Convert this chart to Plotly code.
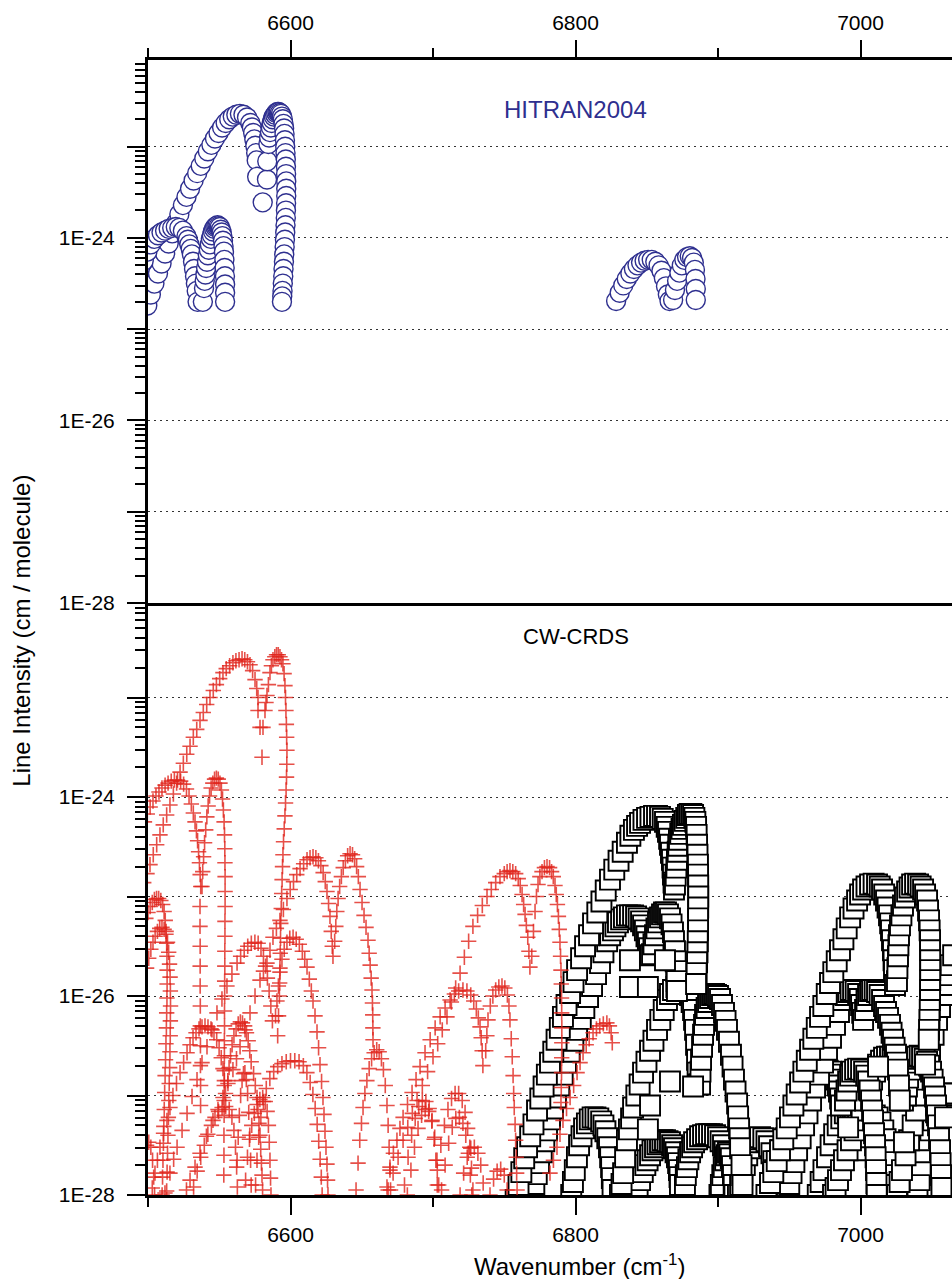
import plotly.graph_objects as go

# Every branch below: list of (wavenumber in cm-1, log10 of line intensity in cm/molecule)

# ---------------- HITRAN2004 (top panel) ----------------
HIT_B1_P = [(6499.5,-24.74),(6502.0,-24.62),(6504.5,-24.5),(6507.0,-24.39),(6509.5,-24.28),(6512.0,-24.17),
            (6514.5,-24.06),(6517.0,-23.95),(6519.5,-23.84),(6522.0,-23.74),(6524.5,-23.64),(6527.0,-23.55),
            (6529.5,-23.46),(6532.0,-23.37),(6534.5,-23.29),(6537.0,-23.21),(6539.5,-23.13),(6542.0,-23.05),
            (6544.5,-22.98),(6547.0,-22.91),(6549.5,-22.85),(6552.0,-22.79),(6554.5,-22.74),(6557.0,-22.7),
            (6559.5,-22.67),(6562.0,-22.65),(6564.5,-22.64),(6567.0,-22.65),(6569.5,-22.68),(6571.8,-22.74),
            (6572.9,-22.79),(6573.8,-22.85),(6574.6,-22.92),(6575.3,-22.99),(6575.9,-23.07),(6576.3,-23.15),
            (6576.6,-23.33),(6580.5,-23.61)]
HIT_B1_R = [(6583.5,-23.36),(6583.7,-23.16),(6584.5,-22.97),(6585.0,-22.9),(6585.6,-22.84),(6586.2,-22.79),
            (6586.8,-22.74),(6587.5,-22.7),(6588.3,-22.67),(6589.2,-22.65),(6590.0,-22.63),(6590.9,-22.62),
            (6591.7,-22.62),(6592.5,-22.63),(6593.3,-22.64),(6594.0,-22.67),(6594.6,-22.7),(6595.1,-22.75),
            (6595.5,-22.8),(6595.8,-22.86),(6596.1,-22.93),(6596.3,-23.0),(6596.5,-23.07),(6596.7,-23.14),
            (6596.8,-23.22),(6596.9,-23.3),(6597.0,-23.38),(6597.0,-23.46),(6597.0,-23.54),(6596.9,-23.62),
            (6596.8,-23.7),(6596.7,-23.78),(6596.5,-23.86),(6596.3,-23.94),(6596.1,-24.02),(6595.9,-24.1),
            (6595.6,-24.18),(6595.4,-24.26),(6595.1,-24.34),(6594.9,-24.42),(6594.6,-24.5),(6594.4,-24.58),
            (6594.2,-24.64),(6594.0,-24.7)]
HIT_B2_P = [(6497.0,-24.25),(6499.5,-24.15),(6502.0,-24.07),(6504.5,-24.01),(6507.0,-23.97),(6509.5,-23.94),
            (6512.0,-23.92),(6514.5,-23.9),(6517.0,-23.89),(6519.5,-23.88),(6522.0,-23.89),(6524.5,-23.92),
            (6527.0,-23.98),(6528.0,-24.02),(6529.0,-24.07),(6530.0,-24.12),(6530.8,-24.18),(6531.6,-24.26),
            (6532.3,-24.34),(6533.0,-24.42),(6533.6,-24.5),(6534.2,-24.58),(6534.8,-24.7)]
HIT_B2_R = [(6538.5,-24.7),(6539.3,-24.55),(6539.8,-24.47),(6540.3,-24.4),(6540.8,-24.33),(6541.4,-24.26),
            (6542.0,-24.19),(6542.7,-24.13),(6543.4,-24.07),(6544.1,-24.01),(6544.8,-23.97),(6545.6,-23.93),
            (6546.4,-23.9),(6547.2,-23.88),(6548.0,-23.87),(6548.8,-23.86),(6549.6,-23.87),(6550.4,-23.88),
            (6551.1,-23.91),(6551.7,-23.94),(6552.2,-23.98),(6552.6,-24.03),(6553.0,-24.09),(6553.3,-24.15),
            (6553.6,-24.24),(6553.8,-24.33),(6554.0,-24.42),(6554.1,-24.51),(6554.1,-24.6),(6554.1,-24.7)]
HIT_B3_P = [(6828.5,-24.69),(6831.0,-24.6),(6833.5,-24.52),(6836.0,-24.45),(6838.5,-24.39),(6841.0,-24.34),
            (6843.5,-24.3),(6846.0,-24.27),(6848.5,-24.25),(6851.0,-24.24),(6853.5,-24.24),(6856.0,-24.26),
            (6858.3,-24.3),(6860.3,-24.36),(6862.0,-24.44),(6863.5,-24.53),(6864.8,-24.62),(6866.0,-24.69)]
HIT_B3_R = [(6868.5,-24.68),(6869.8,-24.57),(6871.3,-24.47),(6872.9,-24.38),(6874.6,-24.3),(6876.4,-24.24),
            (6878.3,-24.21),(6880.2,-24.2),(6881.8,-24.22),(6883.0,-24.27),(6883.8,-24.35),(6884.2,-24.45),
            (6884.4,-24.56),(6884.4,-24.68)]

# ---------------- CW-CRDS, red crosses ----------------
RED_R1_P = [(6497.0,-24.86),(6499.3,-24.77),(6501.4,-24.68),(6503.7,-24.58),(6506.1,-24.48),(6508.4,-24.38),
            (6510.7,-24.28),(6513.1,-24.18),(6515.4,-24.08),(6517.8,-23.97),(6520.1,-23.86),(6522.5,-23.75),
            (6524.8,-23.66),(6527.2,-23.57),(6529.5,-23.49),(6531.8,-23.4),(6534.2,-23.32),(6536.5,-23.23),
            (6538.8,-23.15),(6541.2,-23.07),(6543.5,-23.0),(6545.8,-22.93),(6548.0,-22.87),(6550.3,-22.81),
            (6552.6,-22.75),(6554.9,-22.71),(6557.3,-22.68),(6559.6,-22.65),(6561.7,-22.63),(6563.9,-22.62),
            (6566.0,-22.61),(6567.9,-22.62),(6569.8,-22.64),(6571.6,-22.67),(6573.4,-22.73),(6575.1,-22.82),
            (6576.3,-22.91),(6577.2,-23.0),(6577.2,-23.13),(6578.6,-23.3),(6580.0,-23.6)]
RED_R1_R = [(6580.7,-23.3),(6582.1,-23.13),(6582.8,-23.05),(6583.5,-22.98),(6584.5,-22.87),(6585.6,-22.75),
            (6586.6,-22.68),(6587.7,-22.62),(6589.0,-22.59),(6590.2,-22.57),(6591.4,-22.57),(6592.6,-22.59),
            (6593.7,-22.62),(6594.7,-22.66),(6595.5,-22.76),(6596.1,-22.88),(6596.5,-23.0),(6596.8,-23.13),
            (6597.1,-23.27),(6597.3,-23.4),(6597.5,-23.53),(6597.4,-23.67),(6597.2,-23.8),(6596.9,-23.93),
            (6596.5,-24.06),(6596.1,-24.19),(6595.6,-24.32),(6595.1,-24.45),(6594.7,-24.58),(6594.4,-24.7),
            (6594.1,-24.83),(6593.8,-24.97),(6593.5,-25.12),(6593.2,-25.27),(6593.0,-25.42),(6592.8,-25.57),
            (6592.6,-25.72),(6592.4,-25.87),(6592.2,-26.0),(6591.6,-26.2),(6591.0,-26.4)]
RED_R2_P = [(6497.5,-24.25),(6499.5,-24.17),(6501.5,-24.1),(6503.5,-24.04),(6505.6,-23.99),(6507.7,-23.95),
            (6509.8,-23.91),(6512.0,-23.88),(6514.1,-23.86),(6516.3,-23.84),(6518.5,-23.83),(6520.7,-23.83),
            (6522.9,-23.84),(6525.0,-23.87),(6527.0,-23.92),(6528.8,-23.99),(6530.4,-24.07),(6531.8,-24.16),
            (6533.0,-24.25),(6534.0,-24.34),(6534.8,-24.44),(6535.5,-24.55),(6536.1,-24.66),(6536.6,-24.78),
            (6537.0,-24.9)]
RED_R2_DIP = [(6536.5,-25.1),(6536.5,-25.3),(6536.6,-25.5),(6536.6,-25.7),(6536.6,-25.9),(6536.7,-26.1),
              (6536.7,-26.3),(6536.8,-26.5),(6536.8,-26.7),(6536.9,-26.9),(6536.9,-27.1)]
RED_R2_R = [(6537.9,-24.9),(6538.4,-24.75),(6539.0,-24.6),(6539.7,-24.46),(6540.5,-24.33),(6541.3,-24.2),
            (6542.2,-24.09),(6543.2,-23.99),(6544.3,-23.91),(6545.5,-23.86),(6546.7,-23.82),(6548.0,-23.81),
            (6549.3,-23.82),(6550.5,-23.86),(6551.5,-23.93),(6552.3,-24.02),(6552.9,-24.13),(6553.4,-24.25),
            (6553.7,-24.38),(6553.9,-24.52),(6554.0,-24.66),(6554.1,-24.8),(6554.1,-24.95),(6554.1,-25.1),
            (6554.0,-25.25),(6554.0,-25.4),(6553.9,-25.55),(6553.9,-25.7),(6553.8,-25.85),(6553.8,-26.0),
            (6553.7,-26.15),(6553.7,-26.3),(6553.6,-26.45),(6553.6,-26.6),(6553.5,-26.75),(6553.5,-26.9),
            (6553.4,-27.05),(6553.4,-27.2),(6553.3,-27.4),(6553.3,-27.6),(6553.2,-27.8)]
RED_L1 = [(6498.5,-25.22),(6500.0,-25.16),(6501.5,-25.1),(6503.0,-25.06),(6504.5,-25.03),(6506.0,-25.02),
          (6507.5,-25.02),(6509.0,-25.04),(6510.3,-25.08),(6511.3,-25.15),(6512.1,-25.24),(6512.7,-25.35),
          (6513.1,-25.47),(6513.3,-25.6),(6513.4,-25.74),(6513.4,-25.88),(6513.3,-26.02),(6513.1,-26.17),
          (6512.9,-26.32),(6512.6,-26.48),(6512.3,-26.64),(6512.0,-26.8),(6511.7,-26.97),(6511.4,-27.14),
          (6511.1,-27.31),(6510.8,-27.48),(6510.5,-27.65),(6510.2,-27.82),(6509.9,-28.0)]
RED_L2 = [(6499.0,-25.72),(6500.5,-25.62),(6502.0,-25.53),(6503.5,-25.46),(6505.0,-25.4),(6506.6,-25.35),
          (6508.2,-25.32),(6509.8,-25.31),(6511.3,-25.33),(6512.6,-25.38),(6513.7,-25.46),(6514.5,-25.56),
          (6515.1,-25.68),(6515.5,-25.81),(6515.7,-25.95),(6515.8,-26.1),(6515.7,-26.25),(6515.6,-26.4),
          (6515.4,-26.56),(6515.2,-26.72),(6514.9,-26.88),(6514.6,-27.05),(6514.3,-27.22),(6514.0,-27.4),
          (6513.7,-27.58),(6513.4,-27.77),(6513.1,-27.96)]
RED_L3 = [(6499.0,-27.5),(6500.5,-27.47),(6502.0,-27.52),(6503.2,-27.65),(6504.0,-27.82),(6504.6,-28.0)]
RED_R3_P = [(6511.9,-27.98),(6515.4,-27.78),(6518.0,-27.64),(6520.4,-27.52),(6523.9,-27.35),(6527.4,-27.18),
            (6530.9,-27.01),(6534.4,-26.84),(6537.9,-26.67),(6541.4,-26.51),(6544.9,-26.34),(6548.4,-26.17),
            (6551.9,-26.03),(6555.4,-25.9),(6558.9,-25.78),(6562.5,-25.67),(6565.0,-25.6),(6567.5,-25.54),
            (6570.0,-25.5),(6572.5,-25.47),(6575.0,-25.46),(6577.3,-25.47),(6579.3,-25.52),(6581.0,-25.6),
            (6582.5,-25.7),(6583.8,-25.82),(6585.0,-25.95),(6586.2,-26.1),(6587.3,-26.25)]
RED_R3_R = [(6589.5,-26.2),(6590.5,-26.05),(6591.5,-25.9),(6592.6,-25.76),(6594.0,-25.63),(6595.6,-25.53),
            (6597.5,-25.46),(6599.5,-25.42),(6601.8,-25.41),(6604.0,-25.43),(6606.2,-25.48),(6608.3,-25.55),
            (6610.0,-25.63),(6611.6,-25.71),(6613.2,-25.83),(6614.6,-25.95),(6615.8,-26.05),(6617.2,-26.2),
            (6618.6,-26.36),(6619.7,-26.52),(6620.7,-26.69),(6621.8,-26.86),(6622.8,-27.02),(6623.5,-27.19),
            (6624.2,-27.36),(6624.9,-27.52),(6625.6,-27.69),(6626.0,-27.85),(6626.3,-28.0)]
RED_R4_P = [(6527.0,-27.95),(6529.5,-27.85),(6533.0,-27.72),(6536.5,-27.58),(6541.0,-27.41),(6545.6,-27.25),
            (6549.1,-27.14),(6552.6,-27.02),(6556.1,-26.88),(6559.6,-26.74),(6562.1,-26.63),(6564.6,-26.51),
            (6568.1,-26.34),(6571.6,-26.17),(6575.1,-26.0),(6578.6,-25.84),(6581.0,-25.75),(6583.5,-25.67),
            (6585.6,-25.54),(6587.7,-25.41),(6590.1,-25.32),(6592.6,-25.24),(6595.0,-25.13),(6597.5,-25.02),
            (6599.8,-24.93),(6602.1,-24.85),(6604.4,-24.78),(6606.7,-24.72),(6609.2,-24.67),(6611.6,-24.63),
            (6613.7,-24.61),(6615.8,-24.6),(6617.8,-24.61),(6619.6,-24.64),(6621.3,-24.69),(6622.9,-24.76),
            (6624.4,-24.85),(6625.6,-24.95),(6626.7,-25.07),(6627.7,-25.2),(6628.6,-25.35),(6629.3,-25.5),
            (6629.8,-25.6)]
RED_R4_R = [(6631.0,-25.45),(6631.8,-25.3),(6632.5,-25.15),(6633.4,-25.02),(6634.5,-24.9),(6635.7,-24.8),
            (6637.0,-24.71),(6638.5,-24.64),(6640.1,-24.59),(6641.8,-24.57),(6643.5,-24.58),(6645.0,-24.62),
            (6646.4,-24.7),(6647.6,-24.8),(6648.8,-24.93),(6650.2,-25.06),(6651.6,-25.19),(6653.0,-25.31),
            (6654.4,-25.44),(6655.2,-25.57),(6655.9,-25.69),(6656.6,-25.82),(6657.2,-25.94),(6657.5,-26.07),
            (6657.7,-26.19),(6657.8,-26.32),(6657.9,-26.44)]
RED_N1 = [(6646.0,-27.95),(6647.4,-27.68),(6648.6,-27.45),(6649.8,-27.28),(6650.9,-27.12),(6652.2,-26.98),
          (6653.6,-26.85),(6655.2,-26.73),(6656.9,-26.63),(6658.7,-26.57),(6660.5,-26.54),(6662.2,-26.56),
          (6663.8,-26.63),(6665.2,-26.74),(6666.5,-26.9),(6667.7,-27.1),(6668.5,-27.3),(6669.2,-27.52),
          (6669.8,-27.75),(6670.2,-27.95)]
RED_R5_P = [(6503.0,-27.93),(6504.9,-27.78),(6506.6,-27.65),(6508.4,-27.52),(6510.9,-27.38),(6513.3,-27.25),
            (6515.4,-27.12),(6517.5,-27.0),(6520.0,-26.88),(6522.5,-26.77),(6525.0,-26.67),(6527.4,-26.57),
            (6529.5,-26.49),(6531.6,-26.42),(6533.7,-26.37),(6535.8,-26.33),(6537.9,-26.31),(6540.0,-26.3),
            (6542.1,-26.31),(6544.2,-26.33),(6546.3,-26.37),(6548.2,-26.44),(6549.9,-26.52),(6551.4,-26.62),
            (6552.6,-26.73),(6553.6,-26.85),(6554.4,-26.98)]
RED_R5_R = [(6556.0,-26.85),(6556.9,-26.72),(6557.9,-26.6),(6559.0,-26.49),(6560.3,-26.4),(6561.8,-26.33),
            (6563.3,-26.28),(6564.8,-26.26),(6566.3,-26.27),(6567.8,-26.3),(6569.1,-26.37),(6570.3,-26.45),
            (6571.4,-26.55),(6572.4,-26.66),(6574.1,-26.78),(6575.3,-26.9),(6576.5,-27.02),(6577.2,-27.14),
            (6577.9,-27.28),(6578.6,-27.4),(6579.1,-27.54),(6579.6,-27.68),(6580.0,-27.8),(6580.4,-27.95)]
RED_R6 = [(6562.5,-27.65),(6563.3,-27.42),(6564.1,-27.2),(6565.0,-27.0),(6566.0,-26.85),(6567.0,-26.78),
          (6568.0,-26.77),(6569.0,-26.84),(6569.9,-26.98),(6570.7,-27.17),(6571.4,-27.4),(6572.0,-27.65),
          (6572.4,-27.9)]
RED_R7_P = [(6532.0,-27.92),(6534.5,-27.76),(6537.0,-27.62),(6539.5,-27.5),(6542.0,-27.39),(6544.5,-27.3),
            (6547.0,-27.22),(6549.5,-27.16),(6552.0,-27.12),(6554.5,-27.11),(6557.0,-27.14),(6558.9,-27.22),
            (6560.3,-27.35),(6561.4,-27.52),(6562.2,-27.72),(6562.7,-27.92)]
RED_R7_R = [(6568.5,-27.85),(6569.8,-27.62),(6571.2,-27.44),(6572.8,-27.3),(6574.6,-27.18),(6576.5,-27.09),
            (6578.5,-27.04),(6580.5,-27.02),(6582.3,-27.06),(6583.6,-27.16),(6584.5,-27.3),(6585.1,-27.47),
            (6585.6,-27.65),(6586.0,-27.83),(6586.3,-28.0)]
RED_R8 = [(6575.5,-27.9),(6576.5,-27.65),(6577.7,-27.42),(6579.2,-27.22),(6581.0,-27.06),(6583.0,-26.93),
          (6585.5,-26.83),(6588.2,-26.76),(6591.0,-26.71),(6594.0,-26.68),(6597.0,-26.66),(6600.0,-26.65),
          (6603.0,-26.65),(6606.0,-26.66),(6609.0,-26.7),(6611.5,-26.77),(6613.8,-26.87),(6615.7,-26.99),
          (6617.3,-27.13),(6618.7,-27.29),(6619.8,-27.46),(6620.8,-27.64),(6621.6,-27.82),(6622.2,-28.0)]
RED_R10_P = [(6667.7,-27.92),(6669.8,-27.72),(6672.2,-27.58),(6674.7,-27.45),(6676.8,-27.33),(6679.0,-27.22),
             (6682.1,-27.09),(6685.3,-26.97),(6688.1,-26.84),(6690.9,-26.71),(6694.4,-26.57),(6698.0,-26.44),
             (6701.5,-26.32),(6705.0,-26.21),(6708.5,-26.12),(6712.0,-26.04),(6715.0,-25.98),(6718.0,-25.95),
             (6721.0,-25.94),(6723.8,-25.95),(6726.5,-25.99),(6728.6,-26.05),(6730.4,-26.13),(6731.8,-26.22),
             (6733.0,-26.31),(6733.8,-26.42),(6734.5,-26.55),(6735.0,-26.7)]
RED_R10_R = [(6737.0,-26.55),(6737.8,-26.4),(6738.6,-26.24),(6740.2,-26.1),(6742.0,-26.0),(6744.0,-25.94),
             (6746.2,-25.91),(6748.4,-25.9),(6750.4,-25.92),(6752.2,-25.99),(6753.3,-26.1),(6754.0,-26.24),
             (6754.9,-26.43),(6755.6,-26.61),(6756.2,-26.8),(6756.6,-26.98),(6757.0,-27.12),(6757.6,-27.29),
             (6758.0,-27.45),(6758.4,-27.62),(6758.7,-27.78),(6759.0,-27.95)]
RED_R11_P = [(6668.5,-27.95),(6672.0,-27.78),(6675.5,-27.62),(6679.0,-27.45),(6682.3,-27.32),(6685.5,-27.18),
             (6688.8,-27.05),(6692.5,-26.9),(6696.2,-26.76),(6700.0,-26.61),(6703.3,-26.48),(6706.5,-26.34),
             (6709.8,-26.21),(6712.9,-26.06),(6715.9,-25.92),(6719.0,-25.77),(6722.0,-25.61),(6725.0,-25.45),
             (6728.0,-25.3),(6731.3,-25.19),(6734.6,-25.09),(6737.9,-25.0),(6740.9,-24.93),(6744.0,-24.86),
             (6747.0,-24.8),(6750.0,-24.77),(6752.0,-24.75),(6754.0,-24.74),(6756.0,-24.75),(6758.0,-24.77),
             (6759.8,-24.82),(6761.2,-24.89),(6762.5,-24.98),(6763.6,-25.08),(6764.6,-25.18),(6765.5,-25.29),
             (6766.5,-25.41),(6767.3,-25.55),(6768.0,-25.71)]
RED_R11_R = [(6769.3,-25.6),(6770.5,-25.35),(6771.6,-25.15),(6772.6,-25.0),(6773.7,-24.88),(6775.0,-24.8),
             (6776.5,-24.75),(6778.2,-24.71),(6780.0,-24.7),(6781.8,-24.71),(6783.2,-24.75),(6784.4,-24.8),
             (6785.6,-24.89),(6786.5,-24.98),(6787.3,-25.08),(6788.0,-25.2),(6788.6,-25.33),(6789.1,-25.46),
             (6789.5,-25.6),(6789.8,-25.74),(6790.0,-25.88),(6790.2,-26.02),(6790.3,-26.17),(6790.4,-26.32),
             (6790.4,-26.47),(6790.3,-26.62),(6790.2,-26.77),(6790.0,-26.92),(6789.8,-27.07)]
RED_R12 = [(6782.1,-27.78),(6784.5,-27.65),(6787.0,-27.52),(6789.1,-27.39),(6791.2,-27.25),(6793.7,-27.13),
           (6796.2,-27.02),(6798.7,-26.9),(6801.1,-26.77),(6803.2,-26.67),(6805.3,-26.57),(6807.5,-26.49),
           (6809.6,-26.43),(6812.3,-26.37),(6814.7,-26.33),(6817.0,-26.3),(6819.5,-26.28),(6822.0,-26.27),
           (6823.8,-26.3),(6825.0,-26.37),(6825.8,-26.47)]
RED_W1 = [(6680.0,-27.9),(6682.5,-27.62),(6685.0,-27.4),(6687.5,-27.23),(6690.0,-27.11),(6692.5,-27.05),
          (6695.0,-27.06),(6697.3,-27.13),(6699.2,-27.26),(6700.8,-27.44),(6702.0,-27.65),(6703.0,-27.9)]
RED_W2 = [(6703.0,-27.75),(6705.5,-27.5),(6708.0,-27.3),(6710.5,-27.14),(6713.0,-27.03),(6715.5,-26.98),
          (6718.0,-26.98),(6720.5,-27.05),(6722.5,-27.17),(6724.3,-27.33),(6725.8,-27.52),(6727.0,-27.73),
          (6728.0,-27.95)]
RED_W3 = [(6706.0,-27.95),(6708.5,-27.7),(6711.0,-27.48),(6713.5,-27.32),(6716.0,-27.23),(6718.5,-27.22),
          (6721.0,-27.28),(6723.0,-27.4),(6724.8,-27.58),(6726.2,-27.8),(6727.2,-28.0)]
RED_W4 = [(6682.0,-28.0),(6684.5,-27.75),(6687.0,-27.52),(6689.5,-27.33),(6692.0,-27.2),(6694.5,-27.14),
          (6697.0,-27.16),(6699.3,-27.25),(6701.2,-27.42),(6702.8,-27.65),(6704.0,-27.9)]
RED_W5 = [(6719.0,-28.0),(6721.5,-27.78),(6724.0,-27.62),(6726.5,-27.53),(6729.0,-27.52),(6731.5,-27.58),
          (6733.5,-27.7),(6735.2,-27.88)]
RED_W6 = [(6740.0,-28.0),(6742.5,-27.84),(6745.0,-27.76),(6747.5,-27.74),(6750.0,-27.8),(6752.0,-27.95)]

# ---------------- CW-CRDS, black open squares ----------------
BLK_A_P = [(6758.0,-28.05),(6760.0,-27.9),(6762.0,-27.77),(6764.0,-27.63),(6766.0,-27.52),(6768.2,-27.41),
           (6770.5,-27.29),(6773.0,-27.15),(6775.3,-27.03),(6777.6,-26.91),(6779.9,-26.79),(6782.1,-26.67),
           (6784.4,-26.56),(6786.7,-26.44),(6789.0,-26.32),(6791.2,-26.21),(6793.7,-26.09),(6796.2,-25.97),
           (6798.6,-25.86),(6801.1,-25.74),(6803.9,-25.62),(6806.7,-25.5),(6809.5,-25.39),(6812.3,-25.27),
           (6815.3,-25.16),(6818.2,-25.05),(6821.2,-24.94),(6824.2,-24.83),(6827.2,-24.73),(6830.2,-24.64),
           (6833.1,-24.55),(6836.1,-24.46),(6838.5,-24.39),(6841.0,-24.33),(6843.2,-24.29),(6845.3,-24.26),
           (6847.7,-24.23),(6850.2,-24.21),(6852.6,-24.2),(6855.1,-24.19),(6857.2,-24.19),(6859.3,-24.2),
           (6861.2,-24.22),(6862.8,-24.25),(6864.0,-24.3),(6864.9,-24.35),(6865.7,-24.42),(6866.3,-24.48),
           (6867.0,-24.56),(6867.7,-24.63),(6868.1,-24.71),(6868.4,-24.78),(6868.8,-24.86),(6869.1,-24.93)]
BLK_A_R = [(6869.8,-24.88),(6870.3,-24.79),(6870.8,-24.71),(6871.2,-24.63),(6871.7,-24.55),(6872.1,-24.49),
           (6872.6,-24.43),(6873.5,-24.37),(6874.4,-24.32),(6875.4,-24.28),(6876.5,-24.24),(6877.7,-24.21),
           (6878.9,-24.18),(6880.1,-24.17),(6881.3,-24.17),(6882.5,-24.18),(6883.4,-24.21),(6884.1,-24.25),
           (6884.6,-24.3),(6885.0,-24.38),(6885.3,-24.48),(6885.6,-24.58),(6885.9,-24.68),(6886.0,-24.78),
           (6886.1,-24.89),(6886.1,-25.0),(6886.1,-25.11),(6886.0,-25.22),(6886.0,-25.34),(6885.8,-25.45),
           (6885.6,-25.56),(6885.3,-25.66),(6885.0,-25.77),(6884.6,-25.88)]
BLK_B_P = [(6769.5,-28.0),(6771.1,-27.89),(6772.8,-27.79),(6774.4,-27.68),(6776.3,-27.57),(6778.1,-27.46),
           (6780.0,-27.35),(6782.1,-27.24),(6784.2,-27.13),(6786.3,-27.02),(6788.6,-26.9),(6791.0,-26.79),
           (6793.3,-26.67),(6795.9,-26.56),(6798.5,-26.45),(6801.1,-26.34),(6803.7,-26.23),(6806.2,-26.12),
           (6808.8,-26.01),(6811.6,-25.9),(6814.4,-25.78),(6817.2,-25.67),(6819.6,-25.56),(6822.2,-25.45),
           (6824.3,-25.39),(6826.3,-25.34),(6828.0,-25.3),(6829.8,-25.26),(6832.0,-25.23),(6834.0,-25.21),
           (6836.1,-25.19),(6838.2,-25.19),(6840.4,-25.19),(6842.5,-25.2),(6844.3,-25.22),(6846.0,-25.25),
           (6847.4,-25.29),(6848.7,-25.34),(6849.8,-25.4),(6850.8,-25.46),(6851.6,-25.52),(6852.3,-25.59)]
BLK_B_R = [(6853.7,-25.58),(6854.7,-25.48),(6855.8,-25.39),(6856.8,-25.32),(6857.9,-25.26),(6859.3,-25.21),
           (6860.7,-25.18),(6862.1,-25.16),(6863.5,-25.16),(6864.9,-25.18),(6866.3,-25.22),(6867.4,-25.28),
           (6868.4,-25.36),(6869.1,-25.45),(6869.8,-25.55),(6870.3,-25.65),(6870.7,-25.75),(6871.0,-25.85),
           (6871.2,-25.95)]
BLK_C_P = [(6831.2,-28.0),(6832.3,-27.89),(6833.4,-27.78),(6834.8,-27.62),(6836.1,-27.45),(6837.5,-27.34),
           (6839.0,-27.23),(6840.4,-27.12),(6842.7,-27.0),(6845.0,-26.89),(6847.4,-26.77),(6849.8,-26.66),
           (6852.3,-26.55),(6854.7,-26.45),(6857.2,-26.34),(6859.5,-26.24),(6861.9,-26.14),(6864.2,-26.04),
           (6866.3,-25.98),(6868.4,-25.94),(6870.8,-25.91),(6873.3,-25.89),(6875.5,-25.89),(6877.6,-25.91),
           (6879.1,-25.95),(6880.4,-25.99),(6881.5,-26.06),(6882.5,-26.14),(6883.2,-26.24),(6883.9,-26.34),
           (6884.6,-26.49),(6885.3,-26.64),(6885.7,-26.77),(6886.0,-26.89)]
BLK_C_R = [(6887.4,-26.89),(6887.7,-26.76),(6888.1,-26.64),(6888.8,-26.51),(6889.5,-26.39),(6890.2,-26.29),
           (6890.9,-26.19),(6892.0,-26.12),(6893.0,-26.06),(6894.4,-26.02),(6895.8,-25.99),(6897.2,-25.98),
           (6898.6,-25.99),(6900.0,-26.0),(6901.4,-26.03),(6902.8,-26.09),(6904.2,-26.17),(6905.3,-26.25),
           (6906.3,-26.34),(6907.7,-26.46),(6909.1,-26.59),(6910.2,-26.71),(6911.2,-26.84),(6912.3,-26.96),
           (6913.4,-27.08),(6914.1,-27.21),(6914.8,-27.33),(6915.2,-27.43),(6915.5,-27.53),(6916.5,-27.7),
           (6917.2,-27.9)]
BLK_D_P = [(6934.0,-28.0),(6936.5,-27.88),(6938.8,-27.77),(6941.2,-27.66),(6943.5,-27.55),(6945.8,-27.44),
           (6948.2,-27.33),(6950.5,-27.22),(6952.9,-27.1),(6955.2,-26.99),(6957.6,-26.87),(6959.9,-26.76),
           (6962.3,-26.65),(6964.6,-26.54),(6966.9,-26.43),(6969.3,-26.32),(6971.6,-26.21),(6973.9,-26.1),
           (6976.3,-25.98),(6978.6,-25.87),(6980.9,-25.76),(6983.3,-25.65),(6985.6,-25.54),(6988.0,-25.43),
           (6990.3,-25.32),(6992.7,-25.21),(6995.1,-25.12),(6997.6,-25.04),(6999.7,-24.98),(7001.8,-24.93),
           (7004.2,-24.9),(7006.7,-24.88),(7009.2,-24.87),(7011.6,-24.88),(7013.5,-24.9),(7015.1,-24.93),
           (7016.6,-24.98),(7017.9,-25.04),(7019.0,-25.11),(7020.0,-25.19),(7020.8,-25.27),(7021.4,-25.34),
           (7022.1,-25.44),(7022.8,-25.54),(7023.2,-25.64),(7023.5,-25.74),(7024.2,-25.89)]
BLK_D_R = [(7025.6,-25.85),(7025.9,-25.72),(7026.3,-25.6),(7026.6,-25.49),(7027.0,-25.39),(7027.7,-25.29),
           (7028.7,-25.19),(7029.8,-25.09),(7031.2,-25.01),(7032.7,-24.95),(7034.4,-24.91),(7036.2,-24.88),
           (7038.3,-24.87),(7040.4,-24.88),(7042.2,-24.9),(7043.9,-24.93),(7045.3,-24.98),(7046.7,-25.04),
           (7047.4,-25.14),(7048.1,-25.24),(7048.5,-25.34),(7048.8,-25.44),(7048.8,-25.54),(7048.9,-25.64),
           (7048.9,-25.74),(7048.9,-25.84),(7048.8,-25.94),(7048.8,-26.04),(7048.6,-26.14),(7048.4,-26.24),
           (7048.1,-26.34),(7047.9,-26.44)]
BLK_E_P = [(6948.4,-28.0),(6950.0,-27.89),(6951.6,-27.78),(6953.6,-27.67),(6955.5,-27.55),(6958.0,-27.43),
           (6960.4,-27.3),(6962.8,-27.18),(6965.3,-27.05),(6968.1,-26.92),(6970.9,-26.79),(6973.7,-26.67),
           (6976.5,-26.54),(6979.3,-26.42),(6982.1,-26.29),(6984.9,-26.16),(6987.7,-26.04),(6989.5,-25.99),
           (6991.3,-25.96),(6993.0,-25.94),(6994.8,-25.94),(6996.6,-25.95),(6998.3,-25.98),(6999.5,-26.03),
           (7000.4,-26.09),(7001.2,-26.17),(7001.8,-26.24)]
BLK_E_R = [(7003.2,-26.14),(7004.2,-26.05),(7005.3,-25.99),(7006.7,-25.95),(7008.1,-25.94),(7009.9,-25.94),
           (7011.6,-25.96),(7013.4,-25.99),(7015.1,-26.04),(7016.5,-26.1),(7017.9,-26.16),(7019.3,-26.22),
           (7020.7,-26.29),(7021.8,-26.37),(7022.8,-26.44),(7023.9,-26.52),(7024.9,-26.59),(7025.6,-26.67),
           (7026.3,-26.74),(7027.0,-26.9),(7027.6,-27.05)]
BLK_F_P = [(6935.1,-28.0),(6936.8,-27.9),(6938.6,-27.8),(6941.4,-27.68),(6944.2,-27.55),(6947.4,-27.43),
           (6950.6,-27.3),(6954.1,-27.18),(6957.6,-27.05),(6960.4,-26.95),(6963.2,-26.86),(6966.0,-26.8),
           (6968.8,-26.77),(6971.6,-26.75),(6974.4,-26.74),(6977.0,-26.75),(6979.3,-26.76),(6981.2,-26.79),
           (6982.8,-26.84),(6984.0,-26.9),(6984.9,-26.96),(6985.7,-27.03),(6986.3,-27.1)]
BLK_F_R = [(6989.1,-27.05),(6990.2,-26.95),(6991.3,-26.86),(6992.7,-26.8),(6994.1,-26.76),(6996.2,-26.74),
           (6998.3,-26.73),(7000.4,-26.74),(7002.5,-26.76),(7004.0,-26.8),(7005.3,-26.86),(7006.4,-26.95),
           (7007.4,-27.05),(7008.1,-27.15),(7008.8,-27.25),(7009.5,-27.38),(7010.2,-27.5),(7010.6,-27.62),
           (7010.9,-27.75),(7011.2,-27.88),(7011.4,-28.0)]
BLK_G_P = [(6980.7,-28.0),(6982.5,-27.93),(6984.2,-27.85),(6986.3,-27.75),(6988.4,-27.65),(6990.9,-27.55),
           (6993.3,-27.45),(6995.8,-27.35),(6998.3,-27.25),(7000.8,-27.15),(7003.2,-27.05),(7005.7,-26.94),
           (7008.1,-26.84),(7010.2,-26.76),(7012.3,-26.69),(7014.4,-26.65),(7016.5,-26.62),(7018.6,-26.61),
           (7020.7,-26.61),(7022.5,-26.62),(7024.2,-26.64),(7025.6,-26.68),(7027.0,-26.74),(7027.7,-26.81),
           (7028.4,-26.89),(7029.1,-26.97),(7029.8,-27.05)]
BLK_G_R = [(7031.9,-27.0),(7032.6,-26.91),(7033.4,-26.82),(7034.8,-26.74),(7036.2,-26.67),(7038.0,-26.63),
           (7039.7,-26.61),(7041.5,-26.6),(7043.2,-26.61),(7045.0,-26.63),(7046.7,-26.66),(7048.1,-26.7),
           (7049.5,-26.76),(7050.6,-26.84),(7051.6,-26.92),(7052.3,-27.01),(7053.0,-27.1),(7053.7,-27.2),
           (7054.4,-27.3),(7055.1,-27.43),(7055.8,-27.55),(7056.2,-27.68),(7056.5,-27.8),(7056.8,-27.93)]
BLK_H1_P = [(6841.9,-28.0),(6843.6,-27.92),(6845.3,-27.85),(6847.2,-27.77),(6849.0,-27.7),(6850.6,-27.65),
            (6852.3,-27.6),(6854.0,-27.55),(6855.8,-27.52),(6857.5,-27.49),(6859.3,-27.47),(6861.0,-27.45),
            (6862.8,-27.45),(6864.6,-27.46),(6866.3,-27.47),(6867.8,-27.5),(6869.1,-27.53),(6870.2,-27.57),
            (6871.2,-27.62),(6872.0,-27.68),(6872.6,-27.75),(6873.0,-27.82),(6873.3,-27.9)]
BLK_H1_R = [(6876.8,-27.9),(6877.4,-27.8),(6878.2,-27.72),(6879.2,-27.64),(6880.4,-27.57),(6881.8,-27.52),
            (6883.2,-27.47),(6885.3,-27.44),(6887.4,-27.41),(6889.5,-27.4),(6891.6,-27.39),(6893.7,-27.39),
            (6895.8,-27.39),(6897.9,-27.4),(6900.0,-27.42),(6901.8,-27.46),(6903.5,-27.5),(6904.6,-27.56),
            (6905.6,-27.62),(6906.4,-27.7),(6907.0,-27.78),(6907.5,-27.86),(6908.0,-27.95)]
BLK_H2 = [(6797.0,-28.0),(6798.2,-27.87),(6799.5,-27.75),(6801.0,-27.62),(6802.5,-27.5),(6804.2,-27.41),
          (6806.0,-27.33),(6808.0,-27.28),(6810.0,-27.24),(6812.0,-27.22),(6814.0,-27.22),(6816.0,-27.23),
          (6818.0,-27.26),(6819.6,-27.3),(6821.0,-27.36),(6822.3,-27.43),(6823.5,-27.52),(6824.3,-27.62),
          (6825.0,-27.72),(6825.5,-27.83),(6826.0,-27.95)]
BLK_H3 = [(6901.0,-28.0),(6902.0,-27.9),(6903.0,-27.8),(6904.0,-27.72),(6905.0,-27.65),(6906.0,-27.6),
          (6907.0,-27.57),(6908.0,-27.59),(6909.0,-27.63),(6909.8,-27.71),(6910.5,-27.8),(6911.0,-27.9),
          (6911.5,-28.0)]
BLK_H4 = [(6914.0,-28.0),(6915.5,-27.9),(6917.0,-27.8),(6918.8,-27.7),(6920.5,-27.6),(6922.7,-27.53),
          (6925.0,-27.47),(6927.2,-27.44),(6929.5,-27.42),(6931.8,-27.43),(6934.0,-27.46),(6935.8,-27.51),
          (6937.5,-27.58),(6938.8,-27.66),(6940.0,-27.75),(6940.8,-27.85),(6941.5,-27.95)]
BLK_H5_P = [(6970.0,-28.0),(6972.0,-27.87),(6974.0,-27.75),(6976.5,-27.62),(6979.0,-27.5),(6981.5,-27.39),
            (6984.0,-27.3),(6986.5,-27.23),(6989.0,-27.18),(6991.0,-27.18),(6993.0,-27.2),(6994.6,-27.24),
            (6996.0,-27.3),(6997.1,-27.4),(6998.0,-27.5)]
BLK_H5_R = [(7001.0,-27.55),(7002.4,-27.42),(7004.0,-27.3),(7006.0,-27.24),(7008.0,-27.2),(7010.0,-27.2),
            (7012.0,-27.22),(7014.0,-27.27),(7016.0,-27.35),(7017.6,-27.44),(7019.0,-27.55),(7020.1,-27.67),
            (7021.0,-27.8),(7021.6,-27.9),(7022.0,-28.0)]
BLK_H6 = [(7040.0,-28.0),(7041.5,-27.85),(7043.0,-27.7),(7045.0,-27.57),(7047.0,-27.45),(7049.0,-27.35),
          (7051.0,-27.25),(7053.0,-27.17),(7055.0,-27.1),(7057.0,-27.05),(7059.0,-27.02),(7061.0,-27.0),
          (7063.0,-26.98),(7065.0,-26.98)]
BLK_K = [(7025.6,-28.0),(7027.4,-27.87),(7029.1,-27.75),(7031.6,-27.6),(7034.1,-27.45),(7036.6,-27.3),
         (7039.0,-27.15),(7041.5,-27.0),(7043.9,-26.84),(7046.4,-26.69),(7048.8,-26.54),(7051.3,-26.39),
         (7053.7,-26.24),(7055.8,-26.11),(7057.9,-25.99),(7059.7,-25.89),(7061.4,-25.79),(7063.2,-25.69),
         (7065.0,-25.59)]
BLK_SINGLES = [(6838.2,-25.64),(6838.2,-25.91),(6862.8,-25.64),(6850.8,-25.91),(6852.3,-27.1),(6866.3,-26.86),
               (6882.5,-26.91),(6850.8,-27.34),(6991.3,-27.32),(7030.5,-27.47),(7012.3,-26.71),(7045.3,-26.69),
               (7059.3,-27.22)]


def unpack(branches):
    xs, ys = [], []
    for br in branches:
        for nu, lg in br:
            xs.append(nu)
            ys.append(10.0 ** lg)
    return xs, ys


hx, hy = unpack([HIT_B1_P, HIT_B1_R, HIT_B2_P, HIT_B2_R, HIT_B3_P, HIT_B3_R])
rx, ry = unpack([RED_R1_P, RED_R1_R, RED_R2_P, RED_R2_DIP, RED_R2_R, RED_L1, RED_L2, RED_L3,
                 RED_R3_P, RED_R3_R, RED_R4_P, RED_R4_R, RED_N1, RED_R5_P, RED_R5_R, RED_R6,
                 RED_R7_P, RED_R7_R, RED_R8, RED_R10_P, RED_R10_R, RED_R11_P, RED_R11_R, RED_R12,
                 RED_W1, RED_W2, RED_W3, RED_W4, RED_W5, RED_W6])
bx, by = unpack([BLK_H1_P, BLK_H1_R, BLK_H2, BLK_H3, BLK_H4, BLK_H5_P, BLK_H5_R, BLK_H6, BLK_K,
                 BLK_G_P, BLK_G_R, BLK_F_P, BLK_F_R, BLK_E_P, BLK_E_R, BLK_D_P, BLK_D_R,
                 BLK_C_P, BLK_C_R, BLK_B_P, BLK_B_R, BLK_A_P, BLK_A_R, BLK_SINGLES])

FONT = "Liberation Sans Narrow, Arial Narrow, Liberation Sans, Arial, sans-serif"
BLUE = "#2e2f8f"
RED = "rgba(224,36,27,0.8)"

fig = go.Figure()
fig.add_trace(go.Scatter(x=bx, y=by, mode="markers", xaxis="x", yaxis="y", hoverinfo="skip",
                         marker=dict(symbol="square", size=20, color="white",
                                     line=dict(color="black", width=1.9))))
fig.add_trace(go.Scatter(x=rx, y=ry, mode="markers", xaxis="x", yaxis="y", hoverinfo="skip",
                         marker=dict(symbol="cross-thin", size=11, color=RED,
                                     line=dict(color=RED, width=1.6))))
fig.add_trace(go.Scatter(x=hx, y=hy, mode="markers", xaxis="x2", yaxis="y2", hoverinfo="skip",
                         marker=dict(symbol="circle", size=19, color="white",
                                     line=dict(color=BLUE, width=1.4))))

ytickvals = [10.0 ** e for e in range(-28, -22)]
yticktext = ["1E-28", "", "1E-26", "", "1E-24", ""]
yminor = [k * 10.0 ** e for e in range(-28, -22) for k in range(2, 10)]


def yax(domain, anchor):
    return dict(type="log", range=[-28, -22.05], domain=domain, anchor=anchor,
                tickmode="array", tickvals=ytickvals, ticktext=yticktext,
                ticks="outside", ticklen=18, tickwidth=2, tickcolor="black",
                showline=True, linewidth=3, linecolor="black", mirror=False,
                showgrid=True, gridcolor="#333333", griddash="2px,4px", gridwidth=1.2,
                zeroline=False, ticklabelstandoff=8,
                tickfont=dict(family=FONT, size=21, color="black"),
                minor=dict(tickmode="array", tickvals=yminor, ticks="outside", ticklen=10,
                           tickwidth=2, tickcolor="black", showgrid=False))


def xax(anchor, side, mirror):
    return dict(range=[6500, 7064.2], domain=[0, 1], anchor=anchor, side=side,
                tickmode="array", tickvals=[6600, 6800, 7000], ticktext=["6600", "6800", "7000"],
                ticks="outside", ticklen=17, tickwidth=2, tickcolor="black",
                showline=True, linewidth=3, linecolor="black", mirror=mirror,
                showgrid=False, zeroline=False, ticklabelstandoff=2,
                tickfont=dict(family=FONT, size=21, color="black"),
                minor=dict(tickmode="array", tickvals=[6500, 6700, 6900], ticks="outside",
                           ticklen=9, tickwidth=2, tickcolor="black", showgrid=False))


split = 592.0 / 1135.0
fig.update_layout(
    width=952, height=1279,
    margin=dict(l=148, r=0, t=60, b=84),
    paper_bgcolor="white", plot_bgcolor="white",
    showlegend=False,
    font=dict(family=FONT, color="black"),
    xaxis=xax("y", "bottom", False),
    xaxis2=xax("y2", "top", True),
    yaxis=yax([0, split], "x"),
    yaxis2=yax([split, 1], "x2"),
    annotations=[
        dict(text="HITRAN2004", x=0.532, y=0.956, xref="paper", yref="paper", showarrow=False,
             xanchor="center", yanchor="middle", font=dict(family=FONT, size=24, color=BLUE)),
        dict(text="CW-CRDS", x=0.532, y=0.4925, xref="paper", yref="paper", showarrow=False,
             xanchor="center", yanchor="middle", font=dict(family=FONT, size=22, color="black")),
        dict(text="Line Intensity (cm / molecule)", x=-0.157, y=0.497, xref="paper", yref="paper",
             showarrow=False, textangle=-90, xanchor="center", yanchor="middle",
             font=dict(family=FONT, size=24, color="black")),
        dict(text="Wavenumber (cm<sup>-1</sup>)", x=0.537, y=-0.0617, xref="paper", yref="paper",
             showarrow=False, xanchor="center", yanchor="middle",
             font=dict(family=FONT, size=24, color="black")),
    ],
)

fig.write_html("out.html")
